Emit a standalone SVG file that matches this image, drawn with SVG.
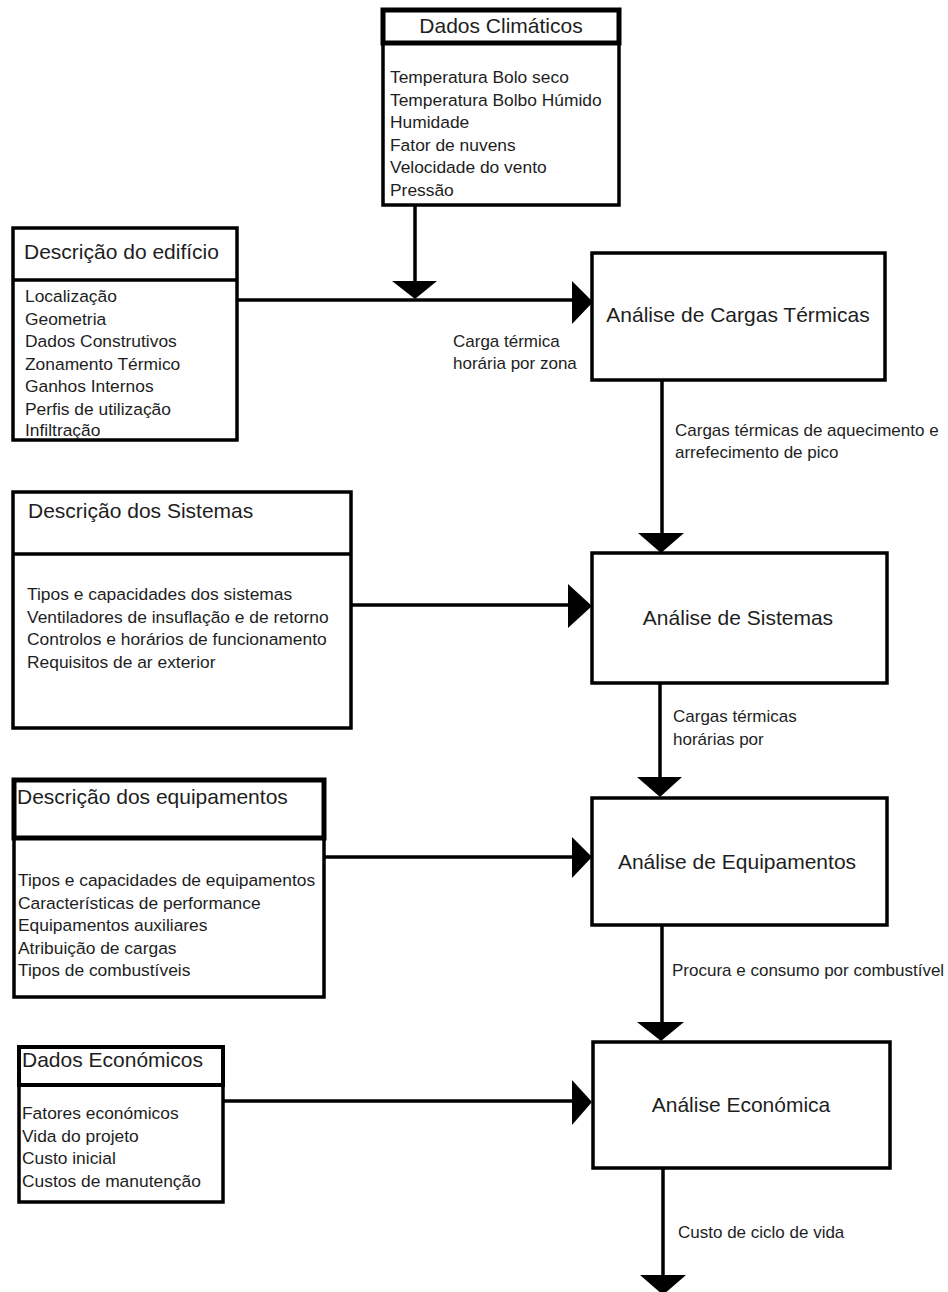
<svg xmlns="http://www.w3.org/2000/svg" width="948" height="1292" viewBox="0 0 948 1292">
<style>
.box{fill:#fff;stroke:#000;stroke-width:3.5}
.hdr{fill:#fff;stroke:#000;stroke-width:5}
.t{font-family:"Liberation Sans",Arial,sans-serif;fill:#1e1e1e}
.h{font-size:21px}
.b{font-size:17.4px}
.l{font-size:17px}
.c{text-anchor:middle}
.ln{stroke:#000;stroke-width:3.5;fill:none}
.ah{fill:#000}
</style>
<rect width="948" height="1292" fill="#fff"/>
<g id="connectors">
<path class="ln" d="M415 205V284"/>
<polygon class="ah" points="392,281 437,281 415,299"/>
<path class="ln" d="M238 300H574"/>
<polygon class="ah" points="572,281 593,302 572,324"/>
<path class="ln" d="M662 380V536"/>
<polygon class="ah" points="638,533 684,533 661,553"/>
<path class="ln" d="M351 605H570"/>
<polygon class="ah" points="568,584 592,606 568,628"/>
<path class="ln" d="M660 683V780"/>
<polygon class="ah" points="637,777 682,777 660,797"/>
<path class="ln" d="M324 857H574"/>
<polygon class="ah" points="572,837 592,857 572,878"/>
<path class="ln" d="M662 925V1025"/>
<polygon class="ah" points="637,1022 684,1022 661,1041"/>
<path class="ln" d="M223 1101H574"/>
<polygon class="ah" points="572,1080 592,1102 572,1125"/>
<path class="ln" d="M663 1168V1278"/>
<polygon class="ah" points="640,1275 686,1275 663,1295"/>
<text class="t l" x="453" y="347">Carga térmica</text>
<text class="t l" x="453" y="369">horária por zona</text>
<text class="t l" x="675" y="436">Cargas térmicas de aquecimento e</text>
<text class="t l" x="675" y="458">arrefecimento de pico</text>
<text class="t l" x="673" y="722">Cargas térmicas</text>
<text class="t l" x="673" y="745">horárias por</text>
<text class="t l" x="672" y="976">Procura e consumo por combustível</text>
<text class="t l" x="678" y="1238">Custo de ciclo de vida</text>
</g>
<g id="dados-climaticos">
<rect class="box" x="383" y="43" width="236" height="162"/>
<rect class="hdr" x="383" y="10" width="236" height="33"/>
<text class="t h c" x="501" y="33">Dados Climáticos</text>
<text class="t b" x="390" y="83">Temperatura Bolo seco</text>
<text class="t b" x="390" y="105.5">Temperatura Bolbo Húmido</text>
<text class="t b" x="390" y="128">Humidade</text>
<text class="t b" x="390" y="150.5">Fator de nuvens</text>
<text class="t b" x="390" y="173">Velocidade do vento</text>
<text class="t b" x="390" y="195.5">Pressão</text>
</g>
<g id="descricao-edificio">
<rect class="box" x="13" y="228" width="224" height="212"/>
<path class="ln" d="M13 280H237"/>
<text class="t h" x="24" y="259">Descrição do edifício</text>
<text class="t b" x="25" y="302">Localização</text>
<text class="t b" x="25" y="324.5">Geometria</text>
<text class="t b" x="25" y="347">Dados Construtivos</text>
<text class="t b" x="25" y="369.5">Zonamento Térmico</text>
<text class="t b" x="25" y="392">Ganhos Internos</text>
<text class="t b" x="25" y="414.5">Perfis de utilização</text>
<text class="t b" x="25" y="435.5">Infiltração</text>
</g>
<g id="analise-cargas">
<rect class="box" x="592" y="253" width="293" height="127"/>
<text class="t h c" x="738" y="322">Análise de Cargas Térmicas</text>
</g>
<g id="descricao-sistemas">
<rect class="box" x="13" y="492" width="338" height="236"/>
<path class="ln" d="M13 554H351"/>
<text class="t h" x="28" y="518">Descrição dos Sistemas</text>
<text class="t b" x="27" y="600">Tipos e capacidades dos sistemas</text>
<text class="t b" x="27" y="622.5">Ventiladores de insuflação e de retorno</text>
<text class="t b" x="27" y="645">Controlos e horários de funcionamento</text>
<text class="t b" x="27" y="667.5">Requisitos de ar exterior</text>
</g>
<g id="analise-sistemas">
<rect class="box" x="592" y="553" width="295" height="130"/>
<text class="t h c" x="738" y="625">Análise de Sistemas</text>
</g>
<g id="descricao-equipamentos">
<rect class="box" x="14" y="838" width="310" height="159"/>
<rect class="hdr" x="14" y="780" width="310" height="58"/>
<text class="t h" x="17" y="804">Descrição dos equipamentos</text>
<text class="t b" x="18" y="886">Tipos e capacidades de equipamentos</text>
<text class="t b" x="18" y="908.5">Características de performance</text>
<text class="t b" x="18" y="931">Equipamentos auxiliares</text>
<text class="t b" x="18" y="953.5">Atribuição de cargas</text>
<text class="t b" x="18" y="976">Tipos de combustíveis</text>
</g>
<g id="analise-equipamentos">
<rect class="box" x="592" y="798" width="295" height="127"/>
<text class="t h c" x="737" y="869">Análise de Equipamentos</text>
</g>
<g id="dados-economicos">
<rect class="box" x="19" y="1085" width="204" height="117"/>
<rect class="hdr" x="19" y="1047" width="204" height="38" style="stroke-width:4"/>
<text class="t h" x="22" y="1067">Dados Económicos</text>
<text class="t b" x="22" y="1119">Fatores económicos</text>
<text class="t b" x="22" y="1141.5">Vida do projeto</text>
<text class="t b" x="22" y="1164">Custo inicial</text>
<text class="t b" x="22" y="1186.5">Custos de manutenção</text>
</g>
<g id="analise-economica">
<rect class="box" x="593" y="1042" width="297" height="126"/>
<text class="t h c" x="741" y="1112">Análise Económica</text>
</g>
</svg>
